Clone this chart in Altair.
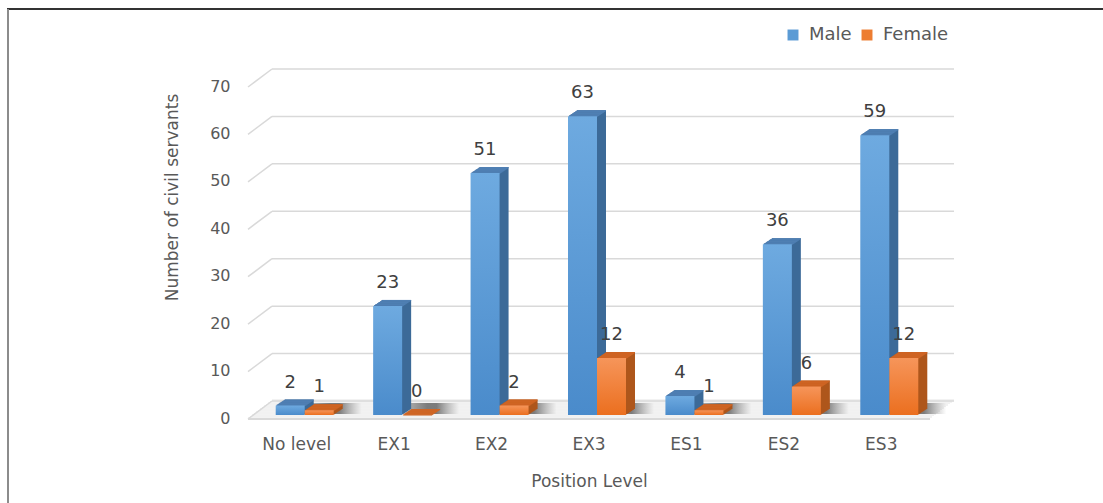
import altair as alt
import pandas as pd

# --- data -----------------------------------------------------------------
categories = ["No level", "EX1", "EX2", "EX3", "ES1", "ES2", "ES3"]
male = [2, 23, 51, 63, 4, 36, 59]
female = [1, 0, 2, 12, 1, 6, 12]
y_ticks = [0, 10, 20, 30, 40, 50, 60, 70]
series = ["Male", "Female"]

df = pd.DataFrame({"level": categories, "Male": male, "Female": female})
long_df = df.melt("level", var_name="sex", value_name="count")
long_df["base"] = 0
ticks_df = pd.DataFrame({"tick": y_ticks})
cat_df = pd.DataFrame({"level": categories, "base": 0})

# --- geometry / style -----------------------------------------------------
W, H = 682, 332            # front plane of the plot
BAR_W = 29                 # front face width of a bar
DEPTH_X, DEPTH_Y = 9, 6    # bar depth (right / up)
WALL_X, WALL_Y = 24, 14    # back wall shift relative to the front plane
FRONT_Y = 4                # floor front edge below the bar baseline
FONT = "DejaVu Sans"
TEXT = "#595959"
GRID = "#d9d9d9"

styles = {
    "Male": dict(offset=-6.5, light="#6eaae0", dark="#4a8bcb", legend="#5b9bd5",
                 side="#3c6a98", top="#4f7fb3"),
    "Female": dict(offset=22.5, light="#f6955a", dark="#eb6f1f", legend="#ed7d31",
                   side="#ae561b", top="#cf6524"),
}

x_scale = alt.Scale(domain=categories, paddingInner=0, paddingOuter=0)
y_scale = alt.Scale(domain=[0, 70], nice=False)

x_axis = alt.Axis(domain=False, ticks=False, grid=False, labelAngle=0,
                  labelPadding=21, labelFontSize=17, labelColor=TEXT,
                  labelFont=FONT, title="Position Level", titleFontSize=17,
                  titleColor=TEXT, titleFont=FONT, titleFontWeight="normal",
                  titleY=66, titleBaseline="middle")
y_axis = alt.Axis(values=y_ticks, domain=False, ticks=False, grid=False,
                  labelPadding=18, labelOffset=3, labelFontSize=16,
                  labelColor=TEXT, labelFont=FONT,
                  title="Number of civil servants", titleFontSize=17,
                  titleColor=TEXT, titleFont=FONT, titleFontWeight="normal",
                  titleX=-76, titleY=114, titleBaseline="middle")


def X():
    return alt.X("level:N", scale=x_scale, axis=x_axis)


def Y(field="count:Q"):
    return alt.Y(field, scale=y_scale, axis=y_axis, stack=None)


layers = []

# outer frame lines of the figure
layers.append(
    alt.Chart(cat_df).mark_rule(color="#333333", strokeWidth=2)
    .encode(x=alt.value(-241), x2=alt.value(W + 173), y=alt.value(-74))
)
layers.append(
    alt.Chart(cat_df).mark_rule(color="#8c8c8c", strokeWidth=2)
    .encode(x=alt.value(-240), y=alt.value(-74), y2=alt.value(H + 90))
)

# floor slab (parallelogram built from thin shifted strips)
steps = 12
for j in range(steps + 1):
    dx = WALL_X * j / steps
    dy = FRONT_Y - (FRONT_Y + WALL_Y) * j / steps
    layers.append(
        alt.Chart(cat_df).mark_rect(color="#f1f1f1", xOffset=dx, x2Offset=dx,
                                    yOffset=dy - 1.6, y2Offset=dy)
        .encode(x=alt.value(0), x2=alt.value(W),
                y=Y("base:Q"), y2=alt.Y2("base:Q"))
    )
# floor front edge
layers.append(
    alt.Chart(cat_df).mark_rule(color=GRID, strokeWidth=1.5, yOffset=FRONT_Y)
    .encode(x=alt.value(0), x2=alt.value(W), y=Y("base:Q"))
)

# back wall gridlines and the side wall diagonals
layers.append(
    alt.Chart(ticks_df).mark_rule(color=GRID, strokeWidth=1.5, yOffset=-WALL_Y)
    .encode(x=alt.value(WALL_X), x2=alt.value(W + WALL_X), y=Y("tick:Q"))
)
layers.append(
    alt.Chart(ticks_df).mark_rule(color=GRID, strokeWidth=1.5,
                                  yOffset=FRONT_Y, y2Offset=-WALL_Y)
    .encode(x=alt.value(0), x2=alt.value(WALL_X),
            y=Y("tick:Q"), y2=alt.Y2("tick:Q"))
)

# soft shadow on the floor behind each pair of bars
shadow = alt.Gradient(
    gradient="linear", x1=0, x2=1, y1=0, y2=0,
    stops=[alt.GradientStop(offset=0, color="rgba(60,60,60,0)"),
           alt.GradientStop(offset=0.6, color="rgba(45,45,45,0.6)"),
           alt.GradientStop(offset=0.72, color="rgba(45,45,45,0.6)"),
           alt.GradientStop(offset=1, color="rgba(90,90,90,0)")],
)
layers.append(
    alt.Chart(cat_df).mark_bar(width=80, xOffset=25, fill=shadow,
                               yOffset=-1, y2Offset=-12)
    .encode(x=X(), y=Y("base:Q"), y2=alt.Y2("base:Q"))
)

# legend carrier (invisible bars, visible legend symbols)
layers.append(
    alt.Chart(long_df).mark_bar(opacity=0, width=1).encode(
        x=X(), y=Y(),
        color=alt.Color(
            "sex:N",
            scale=alt.Scale(domain=series,
                            range=[styles[s]["legend"] for s in series]),
            legend=alt.Legend(
                orient="none", direction="horizontal",
                legendX=536, legendY=-57, symbolType="square",
                symbolSize=120, symbolOpacity=1, symbolStrokeWidth=0,
                labelFontSize=18, labelColor=TEXT, labelFont=FONT,
                columnPadding=6, labelOffset=7, title=None,
            ),
        ),
    )
)

# 3-D bars: side faces, top faces, then the front face and its label
for s in series:
    st = styles[s]
    sub = long_df[long_df.sex == s]
    base = alt.Chart(sub)
    for k in range(1, DEPTH_X + 1):
        dy = -k * DEPTH_Y / DEPTH_X
        layers.append(
            base.mark_bar(width=BAR_W, color=st["side"], xOffset=st["offset"] + k,
                          yOffset=dy, y2Offset=dy)
            .encode(x=X(), y=Y(), y2=alt.Y2("base:Q"))
        )
    for k in range(1, DEPTH_X + 1):
        dy = -k * DEPTH_Y / DEPTH_X
        layers.append(
            base.mark_bar(width=BAR_W, color=st["top"], xOffset=st["offset"] + k,
                          yOffset=dy, y2Offset=dy + 1.2)
            .encode(x=X(), y=Y(), y2=alt.Y2("count:Q"))
        )
    front_fill = alt.Gradient(
        gradient="linear", x1=0, x2=0, y1=0, y2=1,
        stops=[alt.GradientStop(offset=0, color=st["light"]),
               alt.GradientStop(offset=1, color=st["dark"])],
    )
    layers.append(
        base.mark_bar(width=BAR_W, fill=front_fill, xOffset=st["offset"])
        .encode(x=X(), y=Y(), y2=alt.Y2("base:Q"))
    )
    layers.append(
        base.mark_text(fontSize=18, font=FONT, color="#404040", dy=-23,
                       xOffset=st["offset"])
        .encode(x=X(), y=Y(), text="count:Q")
    )

chart = alt.layer(*layers).properties(
    width=W, height=H,
    autosize=alt.AutoSizeParams(type="none"),
    padding={"left": 248, "top": 83, "right": 173, "bottom": 88},
    background="white",
).configure_view(stroke=None)

chart.save("out.html", embed_options={"renderer": "svg", "actions": False})
